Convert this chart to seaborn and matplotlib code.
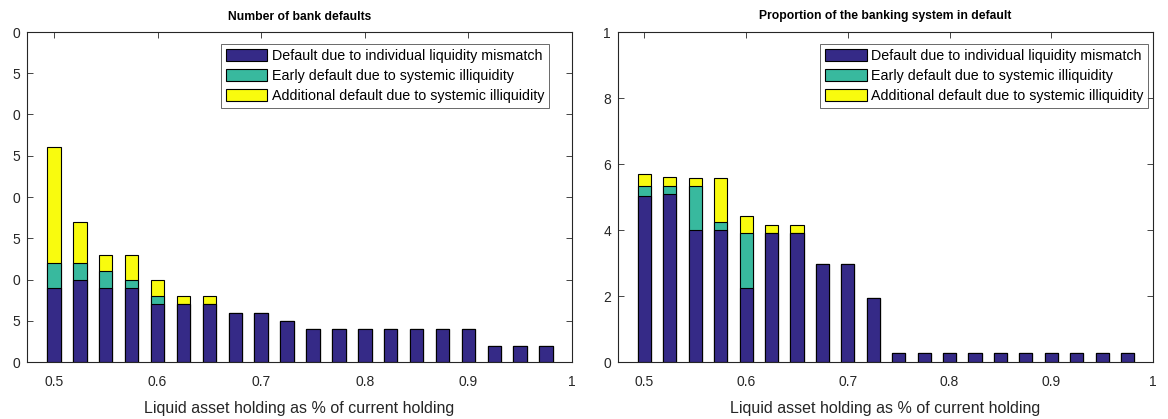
import matplotlib
matplotlib.use("Agg")
import matplotlib.pyplot as plt
from matplotlib.patches import Patch
import numpy as np
import pandas as pd
import seaborn as sns

# Liquid asset holding (fraction of current holding)
liquid_share = [0.500, 0.525, 0.550, 0.575, 0.600, 0.625, 0.650, 0.675, 0.700, 0.725,
                0.750, 0.775, 0.800, 0.825, 0.850, 0.875, 0.900, 0.925, 0.950, 0.975]

# Number of bank defaults, by cause
n_individual = [9, 10, 9, 9, 7, 7, 7, 6, 6, 5, 4, 4, 4, 4, 4, 4, 4, 2, 2, 2]
n_early      = [3, 2, 2, 1, 1, 0, 0, 0, 0, 0, 0, 0, 0, 0, 0, 0, 0, 0, 0, 0]
n_additional = [14, 5, 2, 3, 2, 1, 1, 0, 0, 0, 0, 0, 0, 0, 0, 0, 0, 0, 0, 0]

# Proportion of the banking system in default, by cause
p_individual = [5.03, 5.10, 4.01, 4.00, 2.24, 3.90, 3.90, 2.97, 2.97, 1.93,
                0.28, 0.28, 0.28, 0.28, 0.28, 0.28, 0.28, 0.28, 0.28, 0.28]
p_early      = [0.30, 0.23, 1.33, 0.24, 1.66, 0.00, 0.00, 0.00, 0.00, 0.00,
                0.00, 0.00, 0.00, 0.00, 0.00, 0.00, 0.00, 0.00, 0.00, 0.00]
p_additional = [0.37, 0.29, 0.25, 1.35, 0.51, 0.26, 0.26, 0.00, 0.00, 0.00,
                0.00, 0.00, 0.00, 0.00, 0.00, 0.00, 0.00, 0.00, 0.00, 0.00]

series_names = ["Default due to individual liquidity mismatch",
                "Early default due to systemic illiquidity",
                "Additional default due to systemic illiquidity"]
series_colors = ["#352A87", "#38B99E", "#F9FB0E"]

left_yticks = [0, 5, 10, 15, 20, 25, 30, 35, 40]
left_yticklabels = ["0", "5", "0", "5", "0", "5", "0", "5", "0"]
right_yticks = [0, 2, 4, 6, 8, 10]
right_yticklabels = ["0", "2", "4", "6", "8", "1"]
xticks = [0.5, 0.6, 0.7, 0.8, 0.9, 1.0]
xticklabels = ["0.5", "0.6", "0.7", "0.8", "0.9", "1"]

sns.set_theme(style="white")
plt.rcParams["font.family"] = ["Liberation Sans", "DejaVu Sans"]
ink = "#262626"

fig = plt.figure(figsize=(11.68, 4.19), dpi=100)
ax_l = fig.add_axes([27 / 1168, 57 / 419, 545 / 1168, 330 / 419])
ax_r = fig.add_axes([618 / 1168, 57 / 419, 535 / 1168, 330 / 419])


def stacked(ax, base, mid, top):
    df = pd.DataFrame({"x": liquid_share, "a": base, "b": mid, "c": top})
    df["ab"] = df["a"] + df["b"]
    df["abc"] = df["ab"] + df["c"]
    # draw cumulative totals back to front so each layer shows its own segment
    for col, color in (("abc", series_colors[2]), ("ab", series_colors[1]), ("a", series_colors[0])):
        sns.barplot(data=df, x="x", y=col, native_scale=True, width=0.52,
                    color=color, saturation=1, edgecolor="black", linewidth=0.8,
                    ax=ax, errorbar=None)


def style(ax, title, yticks, yticklabels, ylim, legend_anchor):
    ax.set_xlim(0.474, 1.0)
    ax.set_ylim(*ylim)
    ax.set_xticks(xticks)
    ax.set_xticklabels(xticklabels)
    ax.set_yticks(yticks)
    ax.set_yticklabels(yticklabels)
    ax.tick_params(axis="y", direction="in", left=True, right=True, length=4, width=0.6,
                   colors=ink, labelsize=10, labelcolor=ink, pad=5)
    ax.tick_params(axis="x", direction="in", bottom=True, top=True, length=4, width=0.6,
                   colors=ink, labelsize=10, labelcolor=ink, pad=9)
    for sp in ax.spines.values():
        sp.set_visible(True)
        sp.set_color(ink)
        sp.set_linewidth(0.8)
    ax.set_xlabel("Liquid asset holding as % of current holding", fontsize=11.5, color=ink, labelpad=9)
    ax.set_ylabel("")
    ax.set_title(title, fontsize=8.7, fontweight="bold", color="black", pad=9)
    handles = [Patch(facecolor=c, edgecolor="black", linewidth=0.8) for c in series_colors]
    leg = ax.legend(handles, series_names, loc="upper right", bbox_to_anchor=legend_anchor,
                    borderaxespad=0, fontsize=10.3, frameon=True, fancybox=False,
                    handlelength=2.9, handleheight=0.95, handletextpad=0.3,
                    labelspacing=0.42, borderpad=0.35)
    leg.get_frame().set_edgecolor(ink)
    leg.get_frame().set_linewidth(0.6)
    for t in leg.get_texts():
        t.set_color("black")


stacked(ax_l, n_individual, n_early, n_additional)
style(ax_l, "Number of bank defaults", left_yticks, left_yticklabels, (0, 40), (0.958, 0.964))

stacked(ax_r, p_individual, p_early, p_additional)
style(ax_r, "Proportion of the banking system in default", right_yticks, right_yticklabels, (0, 10), (0.991, 0.964))

fig.savefig("out.png", dpi=100)
